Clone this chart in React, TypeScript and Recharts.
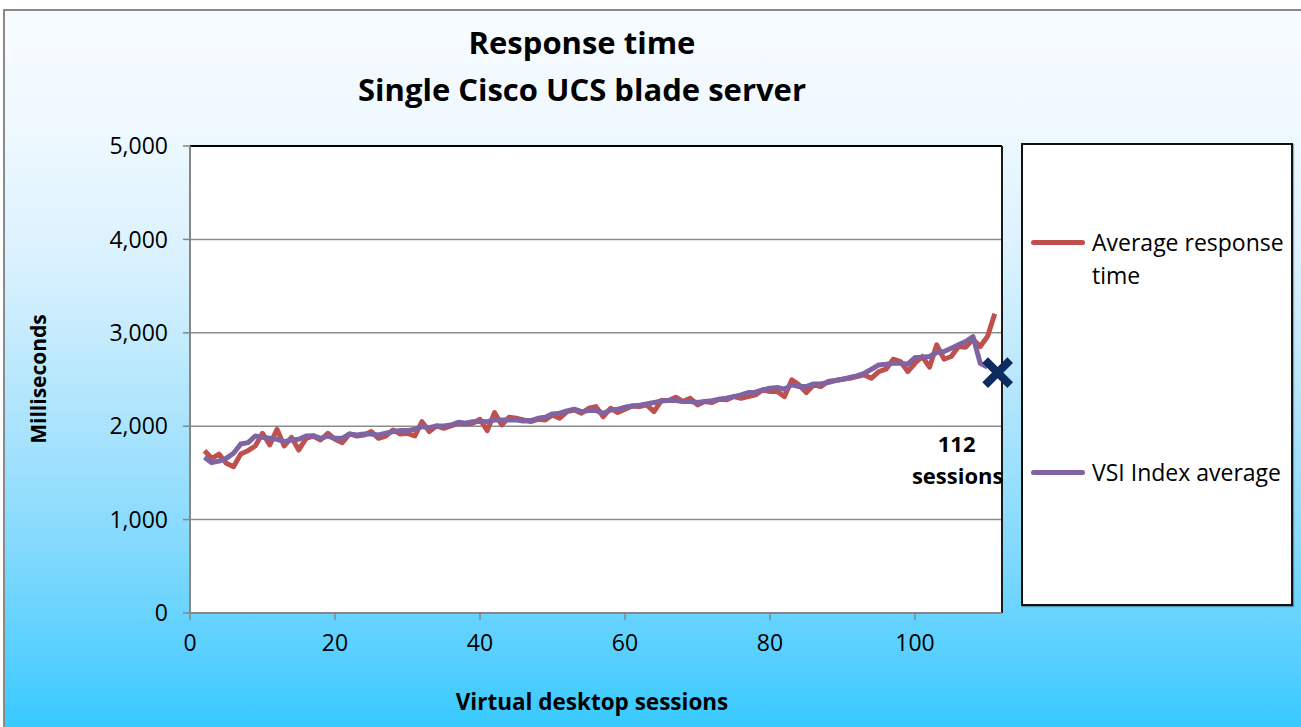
import React from "react";
import {
  ComposedChart,
  Line,
  Scatter,
  XAxis,
  YAxis,
  CartesianGrid,
  ReferenceLine,
} from "recharts";

// virtual desktop sessions (x values)
const sessions = [
  2, 3, 4, 5, 6, 7, 8, 9, 10, 11, 12, 13, 14, 15, 16, 17, 18, 19, 20, 21,
  22, 23, 24, 25, 26, 27, 28, 29, 30, 31, 32, 33, 34, 35, 36, 37, 38, 39, 40, 41,
  42, 43, 44, 45, 46, 47, 48, 49, 50, 51, 52, 53, 54, 55, 56, 57, 58, 59, 60, 61,
  62, 63, 64, 65, 66, 67, 68, 69, 70, 71, 72, 73, 74, 75, 76, 77, 78, 79, 80, 81,
  82, 83, 84, 85, 86, 87, 88, 89, 90, 91, 92, 93, 94, 95, 96, 97, 98, 99, 100, 101,
  102, 103, 104, 105, 106, 107, 108, 109, 110, 111,
];

// Average response time (ms)
const avgResponse = [
  1738, 1656, 1702, 1603, 1567, 1702, 1738, 1788, 1924, 1799,
  1967, 1788, 1881, 1745, 1870, 1895, 1852, 1924, 1860, 1824,
  1917, 1895, 1906, 1942, 1870, 1895, 1960, 1917, 1924, 1895,
  2049, 1942, 2003, 1978, 2003, 2031, 2024, 2031, 2074, 1953,
  2146, 2013, 2096, 2085, 2067, 2049, 2074, 2067, 2121, 2085,
  2156, 2174, 2139, 2192, 2210,
  2102, 2192, 2146, 2181, 2217, 2210, 2228, 2156, 2274, 2274,
  2310, 2264, 2299, 2228, 2264, 2253, 2289, 2282, 2317, 2299,
  2317, 2335, 2389, 2371, 2371, 2317, 2496, 2442, 2360, 2442,
  2424, 2478, 2489, 2503, 2514, 2532, 2549, 2514, 2585, 2610,
  2717, 2692, 2585, 2674, 2746, 2632, 2871, 2717, 2746, 2853,
  2846, 2932, 2853, 2960, 3203,
];

// VSI Index average (ms), ends at session 110
const vsiIndex = [
  1667, 1610, 1627, 1656, 1710, 1810, 1824, 1895, 1881, 1870,
  1860, 1835, 1852, 1860, 1895, 1899, 1870, 1895, 1870, 1870,
  1917, 1906, 1917, 1917, 1906, 1924, 1942, 1953, 1953, 1967,
  1996, 1985, 2003, 2003, 2013, 2042, 2031, 2049, 2053, 2049,
  2067, 2067, 2067, 2067, 2056, 2060, 2085, 2096, 2132, 2139,
  2164, 2182, 2156, 2167, 2167,
  2139, 2174, 2181, 2203, 2217, 2224, 2239, 2253, 2271, 2274,
  2274, 2264, 2264, 2253, 2264, 2274, 2289, 2299, 2317, 2335,
  2360, 2364, 2389, 2407, 2414, 2396, 2442, 2424, 2424, 2453,
  2453, 2467, 2489, 2503, 2521, 2539, 2567, 2610, 2656, 2664,
  2674, 2674, 2664, 2735, 2739, 2746, 2789, 2799, 2835, 2871,
  2907, 2960, 2674, 2632,
];

// VSI max marker
const vsiMax = [{ session: 111.4, marker: 2573, label: "112" }];

const xTicks = [0, 20, 40, 60, 80, 100];
const yTicks = [0, 1000, 2000, 3000, 4000, 5000];

const RED = "#c0504d";
const PURPLE = "#8064a2";
const NAVY = "#0d2b5e";
const FONT = '"Open Sans", sans-serif';

const chartData = sessions.map((s, i) => ({
  session: s,
  avg: avgResponse[i],
  vsi: vsiIndex[i],
}));

const MarkerX = (props: any) => {
  const { cx, cy, payload } = props;
  const r = 12.5;
  return (
    <g>
      <path
        d={`M${cx - r},${cy - r}L${cx + r},${cy + r}M${cx - r},${cy + r}L${cx + r},${cy - r}`}
        stroke={NAVY}
        strokeWidth={8}
      />
      <text
        x={cx - 41}
        y={cy + 70}
        textAnchor="middle"
        dominantBaseline="central"
        fontFamily={FONT}
        fontWeight="bold"
        fontSize={22}
        fill="#000"
      >
        {payload.label}
      </text>
      <text
        x={cx - 40}
        y={cy + 102}
        textAnchor="middle"
        dominantBaseline="central"
        fontFamily={FONT}
        fontWeight="bold"
        fontSize={22}
        fill="#000"
      >
        sessions
      </text>
    </g>
  );
};

const legendItems = [
  { name: "Average response time", color: RED, top: 226, lines: ["Average response", "time"] },
  { name: "VSI Index average", color: PURPLE, top: 456, lines: ["VSI Index average"] },
];

const App = () => {
  return (
    <div
      style={{
        position: "absolute",
        left: 0,
        top: 0,
        width: 1301,
        height: 727,
        background: "#fff",
        overflow: "hidden",
        fontFamily: FONT,
      }}
    >
      <div
        style={{
          position: "absolute",
          left: 3,
          top: 9,
          width: 1300,
          height: 720,
          borderLeft: "2px solid #8a8a8a",
          borderTop: "2px solid #8a8a8a",
          background:
            "linear-gradient(to bottom, #f7fbff 0%, #f0f9ff 15%, #d9f1fe 35%, #b0e5fd 55%, #82d9fd 75%, #56cffe 90%, #36c9ff 100%)",
        }}
      />
      <div
        style={{
          position: "absolute",
          left: 0,
          top: 19,
          width: 1164,
          textAlign: "center",
          fontWeight: "bold",
          fontSize: 31,
          lineHeight: "47px",
          color: "#000",
        }}
      >
        <div>Response time</div>
        <div>Single Cisco UCS blade server</div>
      </div>

      <div style={{ position: "absolute", left: 0, top: 0 }}>
        <ComposedChart
          width={1301}
          height={727}
          data={chartData}
          margin={{ top: 146, right: 299, left: 120, bottom: 74 }}
        >
          <CartesianGrid
            vertical={false}
            stroke="#8c8c8c"
            strokeWidth={1.5}
            fill="#ffffff"
            fillOpacity={1}
          />
          <XAxis
            dataKey="session"
            type="number"
            domain={[0, 112]}
            ticks={xTicks}
            height={40}
            tickSize={7}
            tickMargin={15}
            axisLine={{ stroke: "#868686", strokeWidth: 2 }}
            tickLine={{ stroke: "#868686", strokeWidth: 1.5 }}
            tick={{ fill: "#000", fontSize: 23, fontFamily: FONT }}
            label={{
              content: () => (
                <text
                  x={592}
                  y={701}
                  textAnchor="middle"
                  dominantBaseline="central"
                  fontFamily={FONT}
                  fontWeight="bold"
                  fontSize={22.5}
                  fill="#000"
                >
                  Virtual desktop sessions
                </text>
              ),
            }}
          />
          <YAxis
            type="number"
            domain={[0, 5000]}
            ticks={yTicks}
            width={70}
            tickSize={7}
            tickMargin={15}
            tickFormatter={(v: number) => v.toLocaleString("en-US")}
            axisLine={{ stroke: "#868686", strokeWidth: 2 }}
            tickLine={{ stroke: "#868686", strokeWidth: 1.5 }}
            tick={{ fill: "#000", fontSize: 23, fontFamily: FONT }}
            label={{
              content: () => (
                <text
                  x={38}
                  y={379}
                  transform="rotate(-90 38 379)"
                  textAnchor="middle"
                  dominantBaseline="central"
                  fontFamily={FONT}
                  fontWeight="bold"
                  fontSize={21}
                  fill="#000"
                >
                  Milliseconds
                </text>
              ),
            }}
          />
          <ReferenceLine y={5000} stroke="#000" strokeWidth={2} />
          <ReferenceLine x={112} stroke="#1a1a1a" strokeWidth={2} />
          <Line
            dataKey="avg"
            name="Average response time"
            type="linear"
            stroke={RED}
            strokeWidth={5}
            strokeLinejoin="round"
            dot={false}
            isAnimationActive={false}
          />
          <Line
            dataKey="vsi"
            name="VSI Index average"
            type="linear"
            stroke={PURPLE}
            strokeWidth={5}
            strokeLinejoin="round"
            dot={false}
            isAnimationActive={false}
          />
          <Scatter
            data={vsiMax}
            dataKey="marker"
            shape={<MarkerX />}
            isAnimationActive={false}
          />
        </ComposedChart>
      </div>

      <div
        style={{
          position: "absolute",
          left: 1021,
          top: 143,
          width: 268,
          height: 459,
          background: "#fff",
          border: "2px solid #111",
          boxShadow: "1px 1px 1px rgba(0,0,0,0.3)",
        }}
      />
      {legendItems.map((item) => (
        <React.Fragment key={item.name}>
          <div
            style={{
              position: "absolute",
              left: 1031,
              top: item.top + 14,
              width: 54,
              height: 5,
              borderRadius: 3,
              background: item.color,
            }}
          />
          <div
            style={{
              position: "absolute",
              left: 1092,
              top: item.top,
              fontSize: 23,
              lineHeight: "33px",
              color: "#000",
              whiteSpace: "nowrap",
            }}
          >
            {item.lines.map((l) => (
              <div key={l}>{l}</div>
            ))}
          </div>
        </React.Fragment>
      ))}
    </div>
  );
};

export default App;
